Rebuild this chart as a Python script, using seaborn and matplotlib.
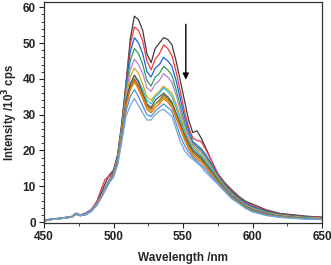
import pandas as pd
import seaborn as sns
import matplotlib.pyplot as plt
from matplotlib.ticker import MultipleLocator

# wavelength grid (nm)
wavelength = [450, 455, 460, 465, 470, 473, 476, 480, 484, 488, 491, 494, 497,
              500, 503, 506, 509, 512,
              515, 518, 521, 524, 527, 530, 533, 536, 539, 542, 545, 548,
              551, 554, 557, 560, 563, 566, 570,
              575, 580, 585, 590, 595, 600, 610, 620, 630, 640, 650]

# intensity /10^3 cps, one list per spectrum (top to bottom)
s01 = [0.5, 0.8, 1.0, 1.3, 1.5, 2.5, 2.0, 2.5, 3.5, 5.6, 8.0, 10.8, 13.2,
       14.5, 19.0, 28.0, 39.0, 51.0,
       57.5, 56.5, 53.5, 47.0, 44.5, 48.5, 50.0, 51.5, 51.0, 49.5, 45.0, 39.5,
       34.0, 28.5, 25.0, 25.5, 23.5, 21.0, 17.5,
       13.5, 11.0, 9.0, 7.2, 5.8, 5.0, 3.4, 2.4, 2.0, 1.6, 1.4]
s02 = [0.4, 0.9, 1.0, 1.2, 1.6, 2.4, 1.9, 2.4, 3.4, 5.8, 9.0, 12.0, 12.8,
       14.2, 18.5, 27.5, 38.5, 49.5,
       54.5, 53.5, 50.5, 45.0, 42.5, 45.5, 47.0, 49.5, 48.5, 46.5, 42.0, 36.5,
       31.0, 26.5, 23.5, 22.8, 22.5, 20.5, 17.5,
       13.5, 10.8, 8.6, 6.8, 5.5, 4.6, 3.2, 2.3, 1.8, 1.5, 1.3]
s03 = [0.4, 0.8, 1.0, 1.2, 1.5, 2.4, 1.9, 2.3, 3.3, 5.2, 7.2, 9.6, 11.8,
       14.0, 18.3, 27.0, 38.0, 47.5,
       51.5, 50.0, 47.0, 42.0, 40.5, 43.0, 44.0, 46.0, 45.0, 43.5, 39.5, 34.5,
       29.5, 25.5, 22.5, 21.5, 20.5, 19.0, 16.5,
       13.0, 10.5, 8.3, 6.6, 5.3, 4.3, 3.0, 2.1, 1.7, 1.4, 1.2]
s04 = [0.4, 0.8, 1.0, 1.2, 1.5, 2.4, 1.9, 2.3, 3.3, 5.2, 7.2, 9.6, 11.8,
       13.8, 18.0, 26.5, 37.0, 45.0,
       48.5, 47.0, 44.0, 39.5, 38.0, 40.5, 41.5, 43.5, 42.5, 41.0, 37.0, 32.5,
       28.0, 24.5, 22.0, 21.0, 20.0, 18.5, 16.0,
       12.8, 10.2, 8.0, 6.4, 5.0, 4.0, 2.8, 2.0, 1.6, 1.3, 1.1]
s05 = [0.4, 0.8, 1.0, 1.2, 1.5, 2.4, 1.9, 2.3, 3.3, 5.2, 7.2, 9.6, 11.8,
       13.6, 17.8, 26.0, 36.0, 42.5,
       45.5, 44.0, 41.5, 37.5, 36.5, 38.5, 39.5, 41.5, 40.5, 39.0, 35.5, 31.0,
       27.0, 24.0, 21.5, 20.5, 19.5, 18.0, 15.5,
       12.5, 10.0, 7.8, 6.2, 4.8, 3.8, 2.6, 1.9, 1.5, 1.2, 1.0]
s06 = [0.3, 0.7, 0.9, 1.1, 1.4, 2.2, 1.8, 2.1, 3.0, 4.8, 6.8, 9.0, 11.2,
       13.5, 17.5, 25.5, 35.0, 40.5,
       43.0, 41.5, 38.5, 35.0, 34.0, 35.5, 36.5, 38.0, 37.0, 36.0, 33.0, 29.5,
       26.0, 23.0, 21.0, 20.0, 18.8, 17.5, 15.2,
       12.2, 9.8, 7.6, 6.0, 4.6, 3.6, 2.5, 1.8, 1.4, 1.2, 1.0]
s07 = [0.3, 0.7, 0.9, 1.1, 1.4, 2.2, 1.8, 2.1, 3.0, 4.8, 6.8, 9.0, 11.2,
       13.3, 17.3, 25.0, 34.0, 38.5,
       41.0, 39.5, 37.0, 34.0, 33.0, 35.0, 36.0, 37.5, 36.5, 35.0, 32.0, 28.5,
       25.5, 22.5, 20.5, 19.5, 18.5, 17.0, 15.0,
       12.0, 9.6, 7.5, 5.9, 4.5, 3.5, 2.4, 1.7, 1.3, 1.1, 0.9]
s08 = [0.3, 0.7, 0.9, 1.1, 1.4, 2.2, 1.8, 2.1, 3.0, 4.8, 6.8, 9.0, 11.2,
       13.3, 17.2, 25.0, 34.0, 38.5,
       41.0, 39.0, 36.0, 33.0, 32.0, 34.0, 35.0, 36.0, 35.0, 33.5, 30.5, 27.5,
       24.5, 22.0, 20.0, 19.0, 18.0, 16.5, 14.5,
       11.8, 9.4, 7.3, 5.8, 4.4, 3.4, 2.3, 1.6, 1.3, 1.0, 0.9]
s09 = [0.3, 0.7, 0.9, 1.1, 1.4, 2.2, 1.8, 2.1, 3.0, 4.8, 6.8, 9.0, 11.2,
       13.2, 17.0, 24.5, 33.0, 37.5,
       40.0, 38.0, 35.5, 32.5, 31.5, 33.0, 34.0, 35.5, 34.5, 33.0, 30.0, 27.0,
       24.0, 21.5, 19.5, 18.5, 17.5, 16.0, 14.0,
       11.5, 9.2, 7.1, 5.6, 4.3, 3.3, 2.2, 1.6, 1.2, 1.0, 0.8]
s10 = [0.3, 0.7, 0.9, 1.1, 1.4, 2.2, 1.8, 2.1, 3.0, 4.8, 6.8, 9.0, 11.2,
       13.1, 17.0, 24.5, 32.5, 37.0,
       39.0, 37.5, 35.0, 32.0, 31.0, 33.0, 33.5, 35.0, 34.0, 32.5, 29.5, 26.5,
       23.5, 21.0, 19.0, 18.0, 17.0, 15.8, 13.8,
       11.4, 9.1, 7.0, 5.5, 4.2, 3.2, 2.1, 1.5, 1.2, 1.0, 0.8]
s11 = [0.3, 0.7, 0.9, 1.1, 1.4, 2.2, 1.8, 2.1, 3.0, 4.8, 6.8, 9.0, 11.2,
       13.0, 16.8, 24.0, 32.5, 37.0,
       39.5, 37.0, 34.5, 31.5, 30.5, 32.0, 33.0, 34.5, 33.5, 32.0, 29.0, 26.0,
       23.0, 20.5, 18.5, 17.5, 16.8, 15.5, 13.5,
       11.2, 9.0, 6.9, 5.4, 4.1, 3.1, 2.0, 1.5, 1.1, 0.9, 0.8]
s12 = [0.3, 0.7, 0.9, 1.1, 1.4, 2.2, 1.8, 2.1, 3.0, 4.8, 6.8, 9.0, 11.2,
       12.8, 16.5, 23.5, 31.0, 35.0,
       37.0, 35.0, 32.5, 30.0, 29.5, 31.0, 32.0, 33.0, 32.0, 31.0, 27.5, 24.0,
       21.5, 19.5, 18.0, 17.0, 16.0, 14.8, 13.0,
       11.0, 8.8, 6.7, 5.3, 4.0, 3.0, 2.0, 1.4, 1.1, 0.9, 0.7]
s13 = [0.3, 0.7, 0.9, 1.1, 1.4, 2.2, 1.8, 2.1, 3.0, 4.8, 6.8, 9.0, 11.0,
       12.5, 16.0, 22.5, 29.5, 32.5,
       34.5, 32.5, 30.5, 28.5, 28.5, 30.0, 31.0, 31.5, 30.5, 29.5, 26.0, 22.5,
       20.0, 18.5, 17.5, 16.5, 15.5, 14.0, 12.5,
       10.5, 8.5, 6.5, 5.2, 3.8, 2.8, 1.8, 1.3, 1.0, 0.8, 0.7]

spectra = [s01, s02, s03, s04, s05, s06, s07, s08, s09, s10, s11, s12, s13]
colors = ["#3c3c3c", "#f03a3a", "#1f62d8", "#2aa05a", "#b77ed6", "#d9a21b",
          "#20c4d4", "#555555", "#8c5a2b", "#b5a520", "#f5700a", "#4f8fd6",
          "#6fa7df"]

frames = []
for i, s in enumerate(spectra):
    frames.append(pd.DataFrame({"wavelength": wavelength, "intensity": s,
                                "sample": f"s{i + 1:02d}"}))
df = pd.concat(frames, ignore_index=True)

sns.set_style("ticks")
plt.rcParams["font.family"] = ["Liberation Sans", "DejaVu Sans"]
plt.rcParams["font.weight"] = "bold"

fig = plt.figure(figsize=(3.31, 2.65), dpi=100)
ax = fig.add_axes([0.133, 0.158, 0.840, 0.835])

sns.lineplot(data=df, x="wavelength", y="intensity", hue="sample",
             palette=colors, linewidth=0.9, legend=False, sort=False,
             estimator=None, ax=ax)

# arrow showing the decrease in intensity
ax.annotate("", xy=(552, 39), xytext=(552, 56),
            arrowprops=dict(arrowstyle="-|>", color="black", lw=1.0,
                            mutation_scale=9))

ax.set_xlim(450, 650)
ax.set_ylim(-0.3, 61.5)
ax.xaxis.set_major_locator(MultipleLocator(50))
ax.xaxis.set_minor_locator(MultipleLocator(25))
ax.yaxis.set_major_locator(MultipleLocator(10))
ax.yaxis.set_minor_locator(MultipleLocator(2))
ax.tick_params(which="major", length=3.5, width=0.8, labelsize=8.5,
               colors="#222222", pad=2.5)
ax.tick_params(which="minor", length=2, width=0.6, colors="#222222")
for sp in ax.spines.values():
    sp.set_color("#333333")
    sp.set_linewidth(0.9)

ax.set_xlabel("Wavelength /nm", fontsize=8.5, fontweight="bold", labelpad=6)
ax.set_ylabel("Intensity /10$^3$ cps", fontsize=8.3, fontweight="bold")
ax.yaxis.set_label_coords(-0.085, 0.5)

fig.savefig("out.png", dpi=100)
